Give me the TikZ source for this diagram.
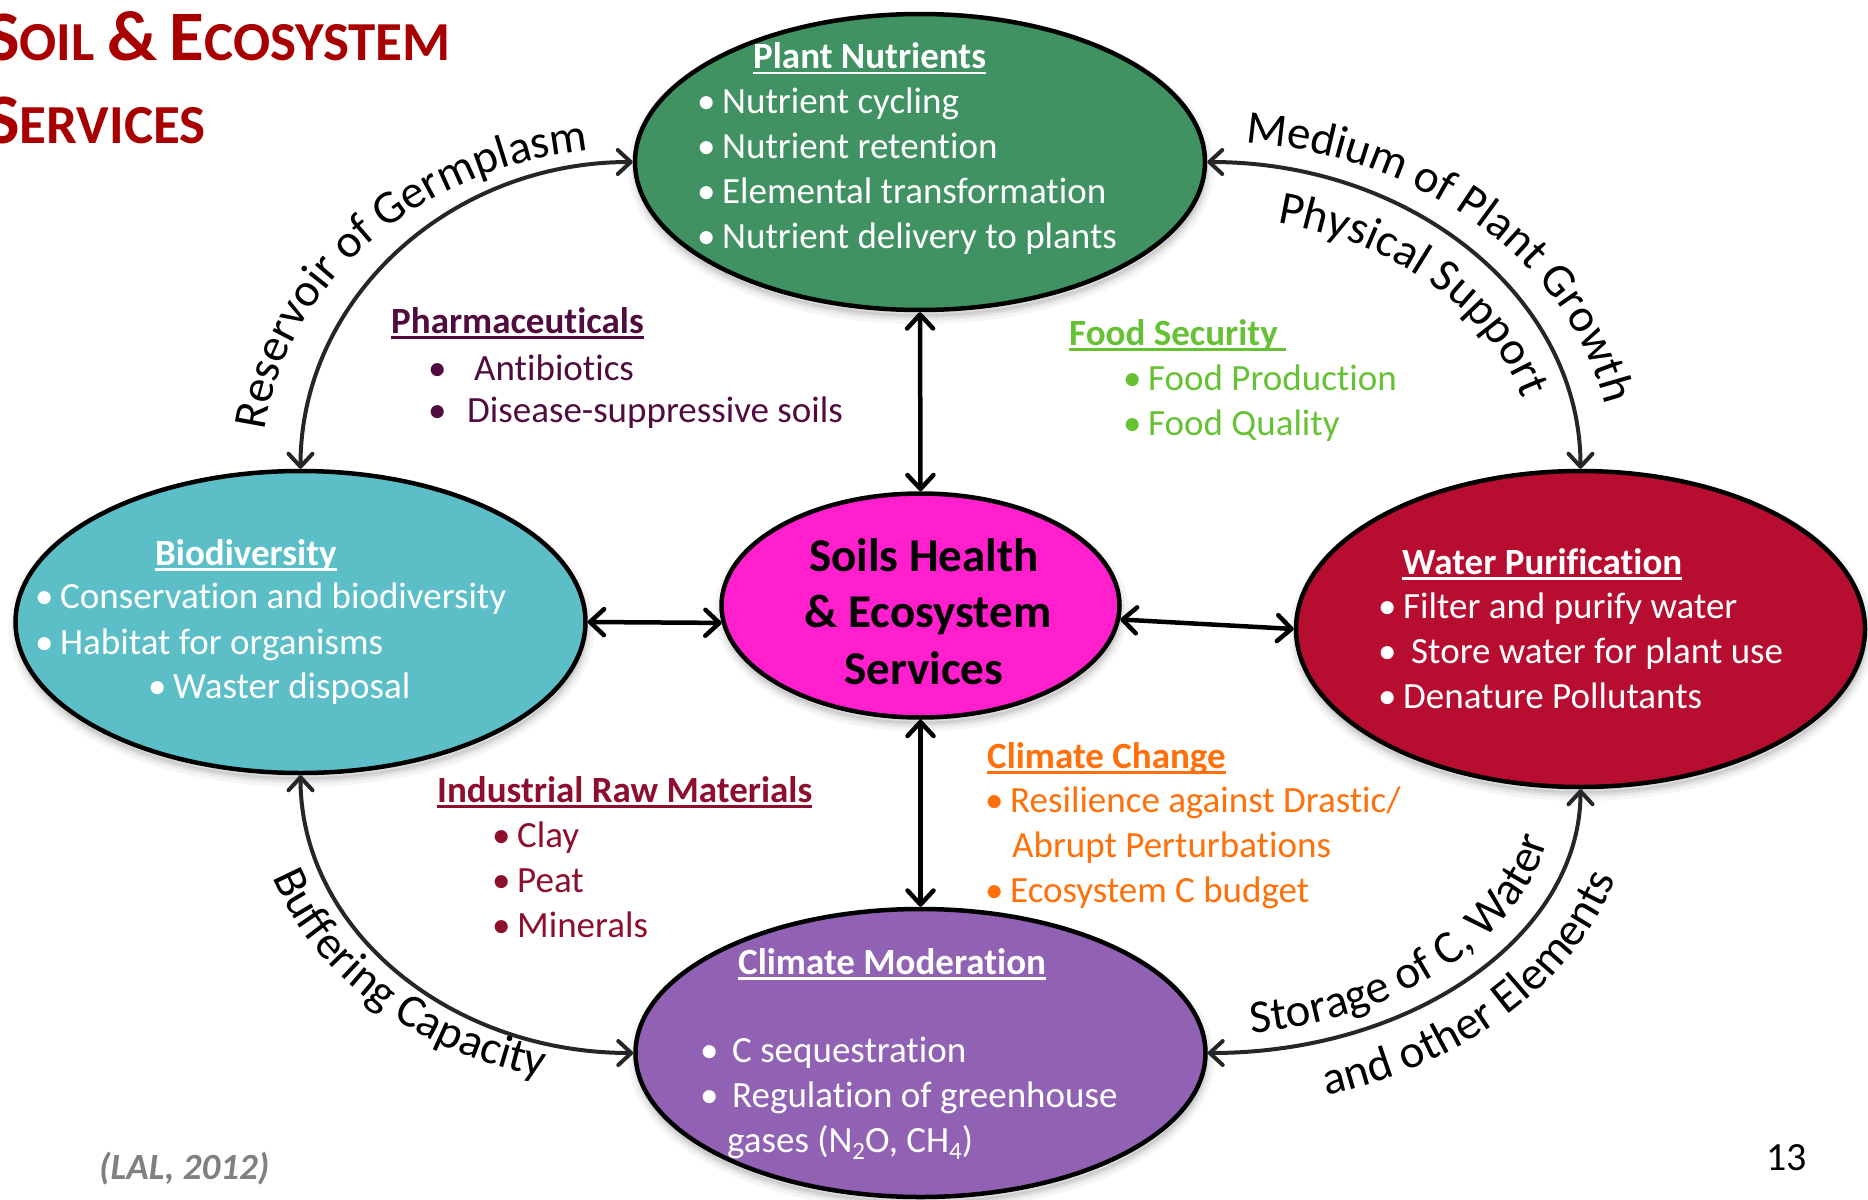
\documentclass[tikz,border=0pt]{standalone}
\usepackage{fontspec}
\setmainfont{Carlito}[Ligatures=NoCommon]
\usetikzlibrary{arrows.meta,shapes.geometric,decorations.text}

\definecolor{nutgreen}{RGB}{64,146,99}
\definecolor{bioteal}{RGB}{92,190,199}
\definecolor{soilpink}{RGB}{255,31,204}
\definecolor{waterred}{RGB}{183,13,48}
\definecolor{climpurple}{RGB}{145,98,180}
\definecolor{titlered}{RGB}{168,0,0}
\definecolor{pharmaplum}{RGB}{80,12,62}
\definecolor{foodgreen}{RGB}{102,194,52}
\definecolor{changeorange}{RGB}{255,112,10}
\definecolor{rawred}{RGB}{140,16,45}
\definecolor{citegray}{RGB}{128,128,128}
\definecolor{curvegray}{RGB}{38,38,38}

% underlined heading with a fixed rule position
\newcommand{\ulbox}[1]{\setbox0=\hbox{#1}\rlap{\rule[-5.5pt]{\wd0}{2.5pt}}\box0}
% bullet in a box of given width
\newcommand{\bul}[1][25pt]{\makebox[#1][l]{\textbullet}}
% faked small capitals of the title
\newcommand{\ttlbig}[1]{{\fontsize{71}{80}\selectfont #1}}
\newcommand{\ttlsmall}[1]{{\fontsize{55}{62}\selectfont #1}}
\newcommand{\curvefont}{\fontsize{47}{54}\selectfont}
\newcommand{\chemsub}[1]{\raisebox{-7pt}{\fontsize{25}{25}\selectfont #1}}

\begin{document}
\begin{tikzpicture}[x=1pt,y=-1pt,
  shadowed/.style={
    preaction={fill=black, fill opacity=0.05, draw=black, draw opacity=0.04, line width=16pt,
      transform canvas={xshift=1pt,yshift=-6pt}},
    preaction={draw=black, draw opacity=0.05, line width=9pt,
      transform canvas={xshift=1pt,yshift=-6pt}},
    preaction={draw=black, draw opacity=0.07, line width=4pt,
      transform canvas={xshift=1pt,yshift=-6pt}}},
  blob/.style={ellipse, draw=black, line width=4.5pt, inner sep=0pt, shadowed},
  thickarrow/.style={line width=4.5pt, black,
    >={Straight Barb[length=14pt,width=26pt,round]}, <->},
  curvearrow/.style={line width=4pt, curvegray,
    >={Straight Barb[length=13pt,width=24pt,round]}, <->},
  arclabel/.style={decorate, decoration={text along path, raise=0pt,
    text align={left, left indent=#1}}},
  body/.style={anchor=base west, inner sep=0pt, font=\fontsize{37}{44}\selectfont},
  head/.style={anchor=base west, inner sep=0pt, font=\fontsize{37}{44}\selectfont\bfseries},
  centre/.style={anchor=base, inner sep=0pt, font=\fontsize{47}{57}\selectfont\bfseries},
]
\useasboundingbox (0,0) rectangle (1868,1199);

% ---- service ellipses
\node[blob, fill=nutgreen,   minimum width=570pt, minimum height=296pt] (nut)   at (920,162) {};
\node[blob, fill=bioteal,    minimum width=570pt, minimum height=302pt] (bio)   at (300.5,622) {};
\node[blob, fill=soilpink,   minimum width=398pt, minimum height=224pt] (soil)  at (920.5,605.5) {};
\node[blob, fill=waterred,   minimum width=569pt, minimum height=316pt] (water) at (1580.5,629) {};
\node[blob, fill=climpurple, minimum width=570pt, minimum height=288pt] (clim)  at (920.5,1053) {};

% ---- links to the central ellipse
\draw[thickarrow] (nut.south) -- (soil.north);
\draw[thickarrow] (soil.south) -- (clim.north);
\draw[thickarrow] (bio.east) -- (soil.185);
\draw[thickarrow] (soil.-4) -- (water.west);

% ---- curved links around the ring
\draw[curvearrow] (bio.north) .. controls +(0,-169) and +(-184,0) .. (nut.west);
\draw[curvearrow] (nut.east) .. controls +(207,0) and +(0,-170) .. (water.north);
\draw[curvearrow] (bio.south) .. controls +(0,154) and +(-184,0) .. (clim.west);
\draw[curvearrow] (clim.east) .. controls +(206,0) and +(0,146) .. (water.south);

% ---- labels along the curves, each on its own baseline arc
\path[arclabel=38pt, decoration={text={|\curvefont|Reservoir of Germplasm}}]
  ([xshift=-38pt]bio.north) .. controls +(0,-177) and +(-205,0) .. ([yshift=14pt]nut.west);
\path[arclabel=38pt, decoration={text={|\curvefont|Medium of Plant Growth}}]
  ([yshift=21pt]nut.east) .. controls +(224,0) and +(0,-181) .. ([xshift=32pt]water.north);
\path[arclabel=70pt, decoration={text={|\curvefont|Physical Support}}]
  ([yshift=-55pt]nut.east) .. controls +(182,0) and +(0,-139) .. ([xshift=-45pt]water.north);
\path[arclabel=105pt, decoration={text={|\curvefont|Buffering Capacity}}]
  ([xshift=-49pt]bio.south) .. controls +(0,173) and +(-212,0) .. ([yshift=-33pt]clim.west);
\path[arclabel=44pt, decoration={text={|\curvefont|Storage of C{,} Water}}]
  ([yshift=18pt]clim.east) .. controls +(192,0) and +(0,136) .. ([xshift=-25pt]water.south);
\path[arclabel=120pt, decoration={text={|\curvefont|and other Elements}}]
  ([yshift=-55pt]clim.east) .. controls +(235,0) and +(0,176) .. ([xshift=52pt]water.south);

% ---- title
\node[anchor=base west, inner sep=0pt, text=titlered, font=\bfseries] (ttl-1) at (-14,60)
  {\ttlbig{S}\ttlsmall{OIL\ }\ttlbig{\&}\ttlsmall{\ }\ttlbig{E}\ttlsmall{COSYSTEM}};
\node[anchor=base west, inner sep=0pt, text=titlered, font=\bfseries] (ttl-2) at (-14,143)
  {\ttlbig{S}\ttlsmall{ERVICES}};

% ---- Plant Nutrients
\node[head, text=white] (nut-h) at (753,69) {\ulbox{Plant Nutrients}};
\node[body, text=white] (nut-1) at (697,113) {\bul Nutrient cycling};
\node[body, text=white] (nut-2) at (697,158) {\bul Nutrient retention};
\node[body, text=white] (nut-3) at (697,203) {\bul Elemental transformation};
\node[body, text=white] (nut-4) at (697,248) {\bul Nutrient delivery to plants};

% ---- Biodiversity
\node[head, text=white] (bio-h) at (155,565) {\ulbox{Biodiversity}};
\node[body, text=white] (bio-1) at (35,608) {\bul Conservation and biodiversity};
\node[body, text=white] (bio-2) at (35,654) {\bul Habitat for organisms};
\node[body, text=white] (bio-3) at (148,698) {\bul Waster disposal};

% ---- Soils Health
\node[centre] (soil-1) at (924,571) {Soils Health};
\node[centre] (soil-2) at (928,627) {\& Ecosystem};
\node[centre] (soil-3) at (924,684) {Services};

% ---- Water Purification
\node[head, text=white] (wat-h) at (1402,574) {\ulbox{Water Purification}};
\node[body, text=white] (wat-1) at (1378,618) {\bul Filter and purify water};
\node[body, text=white] (wat-2) at (1378,663) {\bul[33pt]Store water for plant use};
\node[body, text=white] (wat-3) at (1378,708) {\bul Denature Pollutants};

% ---- Climate Moderation
\node[head, text=white] (clm-h) at (738,974) {\ulbox{Climate Moderation}};
\node[body, text=white] (clm-1) at (700,1062) {\bul[32pt]C sequestration};
\node[body, text=white] (clm-2) at (700,1107) {\bul[32pt]Regulation of greenhouse};
\node[body, text=white] (clm-3) at (727,1152) {gases (N\chemsub{2}O, CH\chemsub{4})};

% ---- Pharmaceuticals
\node[head, text=pharmaplum] (ph-h) at (391,333) {\ulbox{Pharmaceuticals}};
\node[body, text=pharmaplum] (ph-1) at (428,380) {\bul[46pt]Antibiotics};
\node[body, text=pharmaplum] (ph-2) at (428,422) {\bul[39pt]Disease-suppressive soils};

% ---- Food Security
\node[head, text=foodgreen] (fs-h) at (1069,345) {\ulbox{Food Security\ }};
\node[body, text=foodgreen] (fs-1) at (1123,390) {\bul Food Production};
\node[body, text=foodgreen] (fs-2) at (1123,435) {\bul Food Quality};

% ---- Industrial Raw Materials
\node[head, text=rawred] (ir-h) at (437,802) {\ulbox{Industrial Raw Materials}};
\node[body, text=rawred] (ir-1) at (492,847) {\bul Clay};
\node[body, text=rawred] (ir-2) at (492,892) {\bul Peat};
\node[body, text=rawred] (ir-3) at (492,937) {\bul Minerals};

% ---- Climate Change
\node[head, text=changeorange] (cc-h) at (987,768) {\ulbox{Climate Change}};
\node[body, text=changeorange] (cc-1) at (985,812) {\bul Resilience against Drastic/};
\node[body, text=changeorange] (cc-2) at (1012,857) {Abrupt Perturbations};
\node[body, text=changeorange] (cc-3) at (985,902) {\bul Ecosystem C budget};

% ---- source and page number
\node[anchor=base west, inner sep=0pt, text=citegray,
  font=\fontsize{37}{44}\selectfont\bfseries\itshape] (cite) at (99,1179) {(LAL, 2012)};
\node[anchor=base west, inner sep=0pt, font=\fontsize{40}{48}\selectfont] (pageno) at (1766,1170) {13};
\end{tikzpicture}
\end{document}
